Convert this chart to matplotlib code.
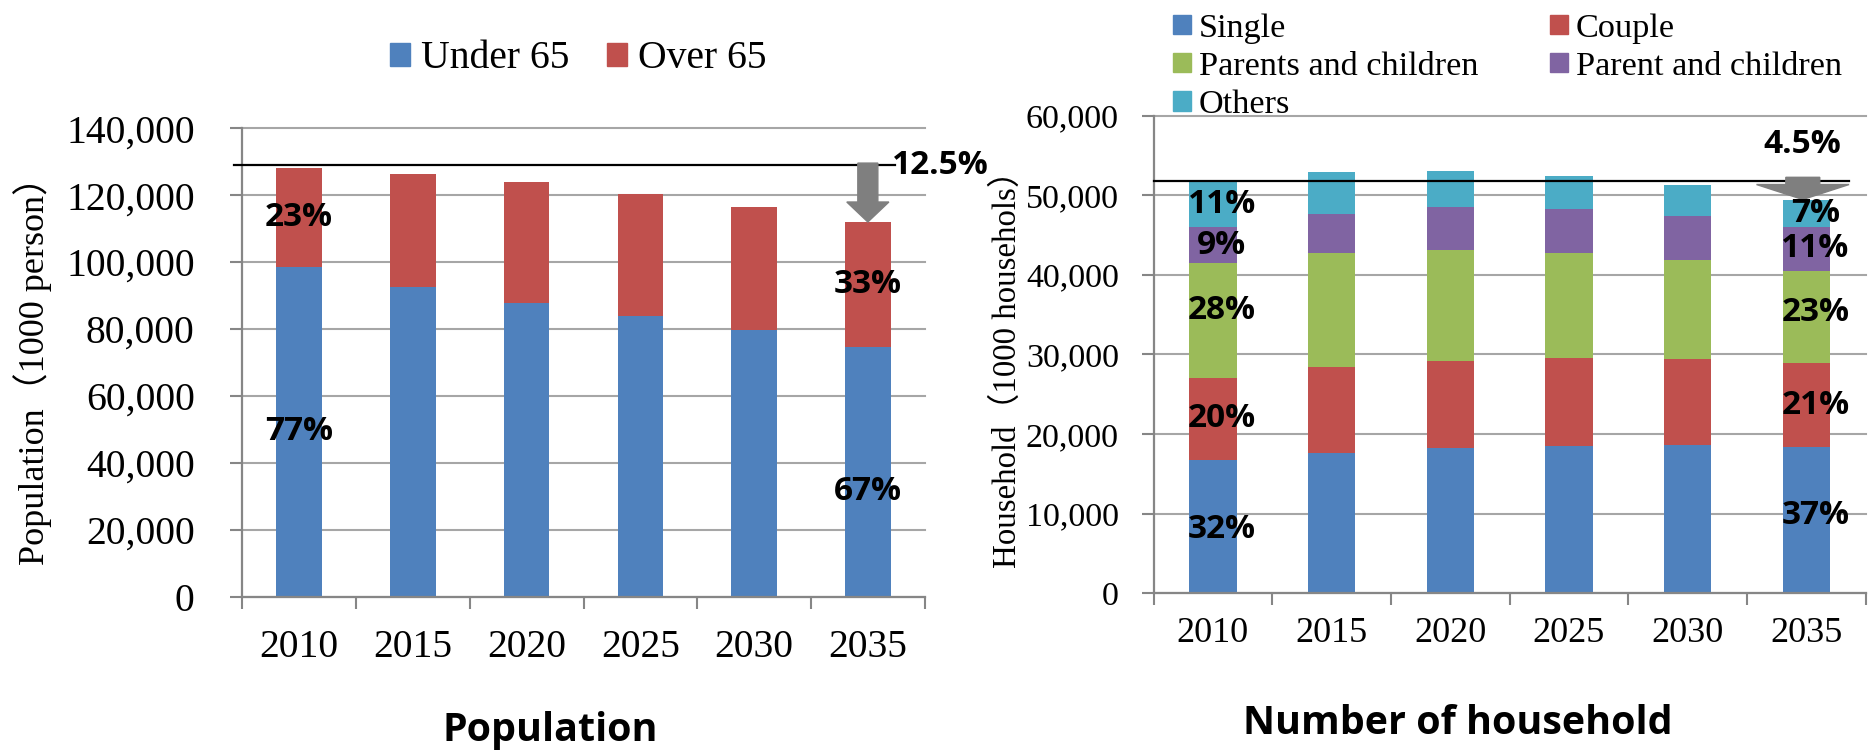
import matplotlib
matplotlib.use("Agg")
import matplotlib.pyplot as plt
from matplotlib.patches import Patch, FancyArrow
from matplotlib.ticker import FuncFormatter, NullFormatter

# ---------------- data ----------------
years = ["2010", "2015", "2020", "2025", "2030", "2035"]

# population, 1000 persons
under65 = [98500, 92600, 87800, 84000, 79650, 74650]
over65 = [29500, 33800, 36100, 36400, 36700, 37350]

# households, 1000 households
single = [16785, 17600, 18200, 18550, 18630, 18400]
couple = [10244, 10870, 11020, 10970, 10800, 10480]
parents_children = [14440, 14320, 13910, 13190, 12400, 11610]
parent_children = [4523, 4900, 5360, 5610, 5610, 5560]
others = [5816, 5200, 4560, 4110, 3820, 3420]

pop_series = ["Under 65", "Over 65"]
hh_series = ["Single", "Couple", "Parents and children", "Parent and children", "Others"]

pop_ref_level = 129000

# ---------------- style ----------------
W, H = 1872, 755
SERIF = "Liberation Serif"
SERIF_CJK = ["Liberation Serif", "Noto Sans CJK JP"]
SANS_B = "Open Sans"
BLUE, RED, GREEN, PURPLE, CYAN = "#4F81BD", "#C0504D", "#9BBB59", "#8064A2", "#4BACC6"
AXIS_C, GRID_C, ARROW_C = "#868686", "#A6A6A6", "#7F7F7F"
PX = 0.72  # points per pixel at 100 dpi
PCT_SIZE = 24

fig = plt.figure(figsize=(W / 100, H / 100), dpi=100)


def px_axes(x0, y0, x1, y1):
    return fig.add_axes([x0 / W, 1 - y1 / H, (x1 - x0) / W, (y1 - y0) / H])


def style_axes(ax, ymax, ystep, ysize, xsize, ypad, xpad):
    n = len(years)
    ax.set_xlim(-0.5, n - 0.5)
    ax.set_ylim(0, ymax)
    for s in ("top", "right"):
        ax.spines[s].set_visible(False)
    for s in ("left", "bottom"):
        ax.spines[s].set_color(AXIS_C)
        ax.spines[s].set_linewidth(1.6)
    ax.set_yticks(range(0, ymax + 1, ystep))
    ax.yaxis.set_major_formatter(FuncFormatter(lambda v, p: f"{int(v):,}"))
    ax.grid(axis="y", color=GRID_C, linewidth=1.5)
    ax.set_axisbelow(True)
    for gl in ax.get_ygridlines():
        gl.set_clip_on(False)
    ax.tick_params(axis="y", length=8.3, width=1.5, color=AXIS_C, pad=ypad,
                   labelsize=ysize)
    ax.set_xticks([i - 0.5 for i in range(n + 1)])
    ax.xaxis.set_major_formatter(NullFormatter())
    ax.set_xticks(list(range(n)), minor=True)
    ax.set_xticklabels(years, minor=True)
    ax.tick_params(axis="x", which="major", length=8.3, width=1.5, color=AXIS_C)
    ax.tick_params(axis="x", which="minor", length=0, pad=xpad, labelsize=xsize)
    for lab in ax.get_xticklabels(minor=True) + ax.get_yticklabels():
        lab.set_fontfamily(SERIF)


def pct_label(ax, x, bottom, height, total, dx_px=0, dy_px=0):
    ax.annotate(f"{round(100 * height / total)}%", (x, bottom + height / 2),
                xytext=(dx_px * PX, dy_px * PX), textcoords="offset points",
                ha="center", va="center", fontfamily=SANS_B, fontweight="bold",
                fontsize=PCT_SIZE, color="black", zorder=5)


x = list(range(len(years)))
BAR_W = 0.4
last = len(years) - 1

# ---------------- population ----------------
ax1 = px_axes(242.3, 128.3, 924.7, 596.7)
style_axes(ax1, 140000, 20000, 28.5, 28.5, 26, 23.3)
pop_tot = [u + o for u, o in zip(under65, over65)]
ax1.bar(x, under65, width=BAR_W, color=BLUE, zorder=2)
ax1.bar(x, over65, bottom=under65, width=BAR_W, color=RED, zorder=2)

for i, (dy_top, dy_low) in ((0, (0, 0)), (last, (0, -20))):
    pct_label(ax1, i, 0, under65[i], pop_tot[i], dy_px=dy_low)
    pct_label(ax1, i, under65[i], over65[i], pop_tot[i], dy_px=dy_top)

ax1.plot([-0.57, 5.24], [pop_ref_level, pop_ref_level], color="black", lw=1.6,
         clip_on=False, zorder=3)
ax1.add_patch(FancyArrow(last, 129600, 0, pop_tot[last] - 129600, width=0.176,
                         head_width=0.37, head_length=5970,
                         length_includes_head=True, color=ARROW_C,
                         clip_on=False, zorder=4))
pop_drop = 100 * (pop_tot[0] - pop_tot[last]) / pop_tot[0]
ax1.text(5.21, pop_ref_level, f"{pop_drop:.1f}%", ha="left", va="center",
         fontfamily=SANS_B, fontweight="bold", fontsize=PCT_SIZE, clip_on=False,
         zorder=6)

fig.text(32.5 / W, 1 - 362 / H, "Population（1000 person）", rotation=90,
         ha="center", va="center", family=SERIF_CJK, fontsize=26)
fig.text(550 / W, 1 - 731 / H, "Population", ha="center", va="center",
         family=SANS_B, fontweight="bold", fontsize=28.4)
fig.legend(handles=[Patch(color=BLUE, label=pop_series[0]),
                    Patch(color=RED, label=pop_series[1])],
           loc="center left", bbox_to_anchor=(390 / W, 1 - 59 / H), ncol=2,
           frameon=False, prop={"family": SERIF, "size": 28.5},
           handlelength=0.5, handleheight=0.5, handletextpad=0.28,
           columnspacing=0.96, borderpad=0, borderaxespad=0)

# ---------------- households ----------------
ax2 = px_axes(1153.5, 115.7, 1865.7, 593.3)
style_axes(ax2, 60000, 10000, 24.5, 26, 16.6, 17)
hh_values = [single, couple, parents_children, parent_children, others]
hh_colors = [BLUE, RED, GREEN, PURPLE, CYAN]
hh_tot = [sum(v) for v in zip(*hh_values)]
bottoms = [0] * len(years)
seg_bottoms = []
for vals, col, name in zip(hh_values, hh_colors, hh_series):
    ax2.bar(x, vals, bottom=bottoms, width=BAR_W, color=col, label=name, zorder=2)
    seg_bottoms.append(list(bottoms))
    bottoms = [b + v for b, v in zip(bottoms, vals)]

label_dy = {0: [-3, 0, 10, 0, 0], last: [5, 0, 5, 0, 0]}
for i, dys in label_dy.items():
    for k, vals in enumerate(hh_values):
        pct_label(ax2, i, seg_bottoms[k][i], vals[i], hh_tot[i], dx_px=9,
                  dy_px=dys[k])

ax2.plot([-0.5, 5.36], [hh_tot[0], hh_tot[0]], color="black", lw=1.6,
         clip_on=False, zorder=3)
ax2.add_patch(FancyArrow(4.97, 52260, 0, hh_tot[last] - 52260, width=0.286,
                         head_width=0.78, head_length=1885,
                         length_includes_head=True, color=ARROW_C,
                         clip_on=False, zorder=4))
hh_drop = 100 * (hh_tot[0] - hh_tot[last]) / hh_tot[0]
ax2.text(4.968, 56370, f"{hh_drop:.1f}%", ha="center", va="center",
         fontfamily=SANS_B, fontweight="bold", fontsize=PCT_SIZE, clip_on=False,
         zorder=6)

fig.text(1007.5 / W, 1 - 361.5 / H, "Household（1000 househols）", rotation=90,
         ha="center", va="center", family=SERIF_CJK, fontsize=23.7)
fig.text(1458 / W, 1 - 724 / H, "Number of household", ha="center",
         va="center", family=SANS_B, fontweight="bold", fontsize=28.4)

h_handles = [Patch(color=c, label=n) for c, n in zip(hh_colors, hh_series)]
order = [0, 2, 4, 1, 3]
fig.legend(handles=[h_handles[j] for j in order], loc="upper left",
           bbox_to_anchor=(1173.4 / W, 1 - 13 / H), ncol=2, frameon=False,
           prop={"family": SERIF, "size": 24.7}, handlelength=0.52,
           handleheight=0.5, handletextpad=0.22, columnspacing=2.1,
           labelspacing=0.23, borderpad=0, borderaxespad=0)

fig.savefig("out.png", dpi=100)
